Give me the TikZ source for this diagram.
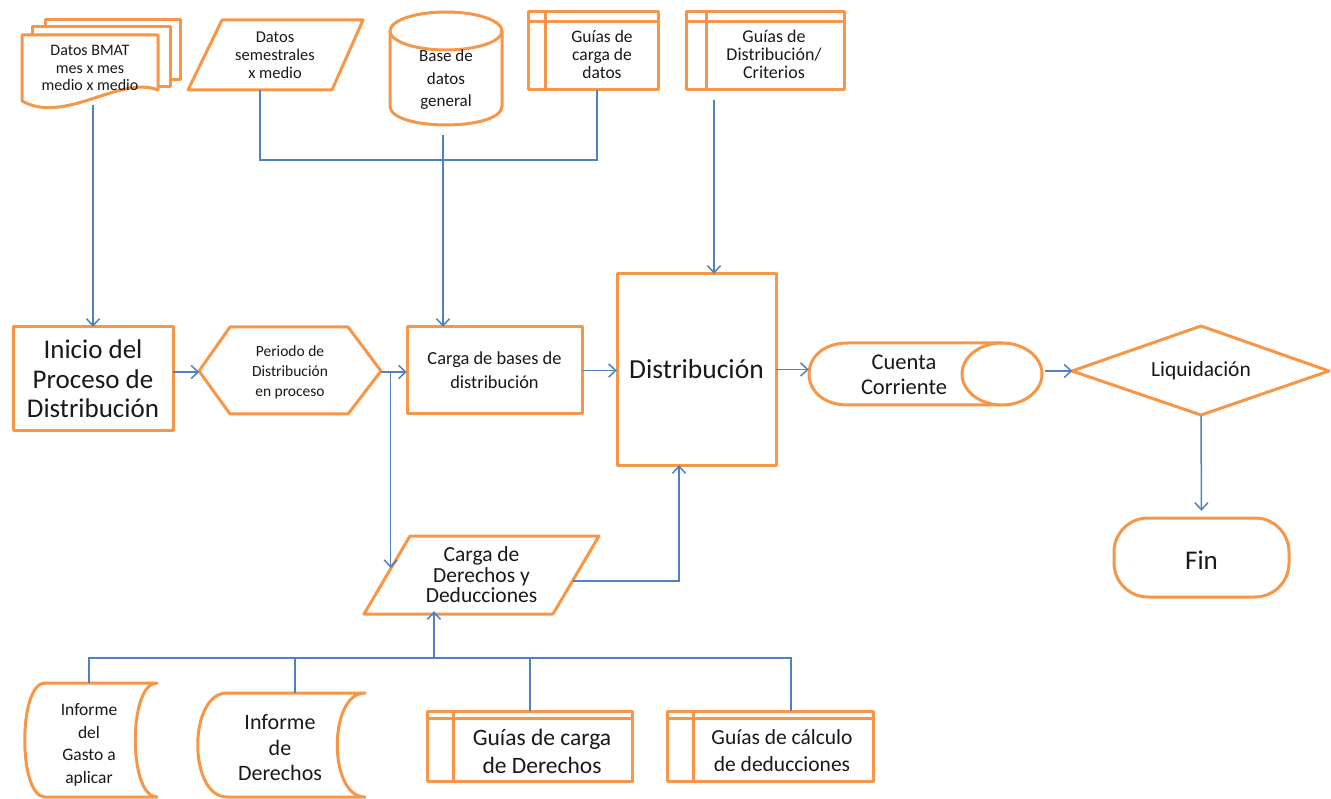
\documentclass[tikz,border=0pt]{standalone}
\usepackage{fontspec}
\setmainfont{Carlito}
\usetikzlibrary{arrows.meta,calc}
\definecolor{org}{HTML}{F79646}
\definecolor{blu}{HTML}{4F81BD}
\newcommand{\fs}[2]{\fontsize{#1}{#2}\selectfont}
\begin{document}
\begin{tikzpicture}[x=1pt,y=-1pt,
  shp/.style={draw=org, line width=3pt, fill=white, line join=round},
  ln/.style={draw=blu, line width=1.5pt},
  arr/.style={ln, -{Straight Barb[length=7pt,width=13pt]}},
  lbl/.style={inner sep=0pt, align=center, text=black!90}]
\useasboundingbox (0,0) rectangle (1331,799);

% ---------- shapes ----------
% multidocument
\draw[shp] (45,20) rectangle (180,80);
\draw[shp] (32,27) rectangle (170,87);
\draw[shp] (22,35) -- (158,35) -- (158,90) .. controls (120,75) and (65,125) .. (22,101) -- cycle;
% data parallelogram
\draw[shp] (222,20) -- (363,20) -- (332,90) -- (188,90) -- cycle;
% cylinder
\draw[shp] (390,31) -- (390,106) .. controls (390,131.3) and (502,131.3) .. (502,106) -- (502,31);
\draw[shp] (446,31) ellipse [x radius=56, y radius=19];
% internal storage top
\draw[shp] (528,12) rectangle (658,90);
\draw[shp] (528,22) -- (658,22) (545,12) -- (545,90);
\draw[shp] (686,12) rectangle (844,90);
\draw[shp] (686,22) -- (844,22) (706,12) -- (706,90);
% middle row
\draw[shp] (13,327) rectangle (173,431);
\draw[shp] (199,371) -- (230,327) -- (348,327) -- (381,371) -- (348,414) -- (230,414) -- cycle;
\draw[shp] (407,327) rectangle (582,414);
\draw[shp] (617,274) rectangle (776,465);
\draw[shp] (1002,343) -- (848,343) .. controls (796,343) and (796,405) .. (848,405) -- (1002,405);
\draw[shp] (1002,374) ellipse [x radius=40, y radius=31];
\draw[shp] (1072,371) -- (1201,326) -- (1329,371) -- (1201,415) -- cycle;
\draw[shp, rounded corners=34pt] (1114,518) rectangle (1289,597);
% carga de derechos
\draw[shp] (410,536) -- (599,536) -- (553,614) -- (364,614) -- cycle;
% bottom row
\draw[shp] (45,683) -- (157,683) .. controls (128,683) and (128,797) .. (157,797) -- (45,797) .. controls (18,797) and (18,683) .. (45,683) -- cycle;
\draw[shp] (227,693) -- (365,693) .. controls (328,693) and (328,797) .. (365,797) -- (227,797) .. controls (188,797) and (188,693) .. (227,693) -- cycle;
\draw[shp] (427,711) rectangle (632,781);
\draw[shp] (427,718) -- (632,718) (453,711) -- (453,781);
\draw[shp] (667,711) rectangle (873,781);
\draw[shp] (667,718) -- (873,718) (693,711) -- (693,781);

% ---------- nodes ----------
\node[lbl, minimum width=136pt, minimum height=74pt, font=\fs{16}{17.5}] (bmat) at (90,68) {Datos BMAT\\mes x mes\\medio x medio};
\node[lbl, minimum width=175pt, minimum height=70pt, font=\fs{16.5}{18}] (sem) at (275,55) {Datos\\semestrales\\x medio};
\node[lbl, minimum width=112pt, minimum height=90pt, font=\fs{17}{22.5}] (db) at (446,80) {Base de\\datos\\general};
\node[lbl, minimum width=112pt, minimum height=72pt, font=\fs{17.5}{18}] (gcd) at (602,54) {Guías de\\carga de\\datos};
\node[lbl, minimum width=130pt, minimum height=72pt, font=\fs{18}{18}] (gdc) at (774,54) {Guías de\\Distribución/\\Criterios};
\node[lbl, minimum width=160pt, minimum height=104pt, font=\fs{27}{29.5}] (inicio) at (93,379) {Inicio del\\Proceso de\\Distribución};
\node[lbl, minimum width=181pt, minimum height=87pt, font=\fs{15.5}{20}] (per) at (290,372) {Periodo de\\Distribución\\en proceso};
\node[lbl, minimum width=175pt, minimum height=87pt, font=\fs{18.4}{24}] (cb) at (494.5,370.5) {Carga de bases de\\distribución};
\node[lbl, minimum width=159pt, minimum height=191pt, font=\fs{27.5}{30}] (dist) at (696.5,369.5) {\raisebox{-3pt}{Distribución}};
\node[lbl, minimum width=233pt, minimum height=62pt] (cc) at (925.5,374) {};
\node[lbl, font=\fs{22.5}{25}] (cctxt) at (904,375) {Cuenta\\Corriente};
\node[lbl, minimum width=257pt, minimum height=89pt, font=\fs{21.5}{24}] (liq) at (1201,371) {Liquidación};
\node[lbl, minimum width=175pt, minimum height=84pt, font=\fs{27}{30}] (fin) at (1201.5,560) {Fin};
\node[lbl, minimum width=235pt, minimum height=78pt, font=\fs{21.5}{20.5}] (cdd) at (481.5,575) {Carga de\\Derechos y\\Deducciones};
\node[lbl, minimum width=110pt, minimum height=124pt, font=\fs{17.5}{22.5}] (ig) at (89,745) {Informe\\del\\Gasto a\\aplicar};
\node[lbl, minimum width=150pt, minimum height=110pt, font=\fs{22}{25.5}] (id) at (280,748) {Informe\\de\\Derechos};
\node[lbl, minimum width=170pt, minimum height=80pt, font=\fs{23.5}{28}] (gcdr) at (542,751) {Guías de carga\\de Derechos};
\node[lbl, minimum width=175pt, minimum height=80pt, font=\fs{21.5}{27}] (gcal) at (782,751) {Guías de cálculo\\de deducciones};

% ---------- connectors ----------
\draw[arr] (inicio.north |- bmat.south) -- (inicio.north);
\draw[ln] ([xshift=-15pt]sem.south) -- ++(0,70) -| ([xshift=-5pt]gcd.south);
\draw[arr] ([xshift=-3pt,yshift=-10pt]db.south) -- ([xshift=-3pt]db.south |- cb.north);
\draw[arr] ([xshift=-60pt,yshift=-10pt]gdc.south) -- ([xshift=-60pt]gdc.south |- dist.north);
\draw[arr] (inicio.east |- per.west) -- (per.west);
\draw[arr] (per.east) -- (per.east -| cb.west);
\coordinate (j1) at ([xshift=10pt]per.east);
\coordinate (cddtip) at (390.5,568);
\draw[arr] (j1) -- (j1 |- cddtip);
\draw[arr] (cb.east) -- (cb.east -| dist.west);
\draw[arr] (dist.east) -- (dist.east -| cc.west);
\draw[arr] ([xshift=3pt]cc.east |- liq.west) -- (liq.west);
\draw[arr, shorten >=7pt] (liq.south) -- (fin.north);
\draw[arr] ($(cdd.east)+(-26,6)$) -| ([xshift=-17.5pt]dist.south);
\coordinate (busy) at (434,658);
\draw[ln] (ig.north) |- ([xshift=9pt]gcal.north |- busy) -- ([xshift=9pt]gcal.north);
\draw[ln] ([xshift=15pt]id.north) -- ([xshift=15pt]id.north |- busy);
\draw[ln] ([xshift=-12pt]gcdr.north) -- ([xshift=-12pt]gcdr.north |- busy);
\draw[arr, shorten >=-3pt] (busy) -- ([xshift=-47.5pt]cdd.south);
\end{tikzpicture}
\end{document}
